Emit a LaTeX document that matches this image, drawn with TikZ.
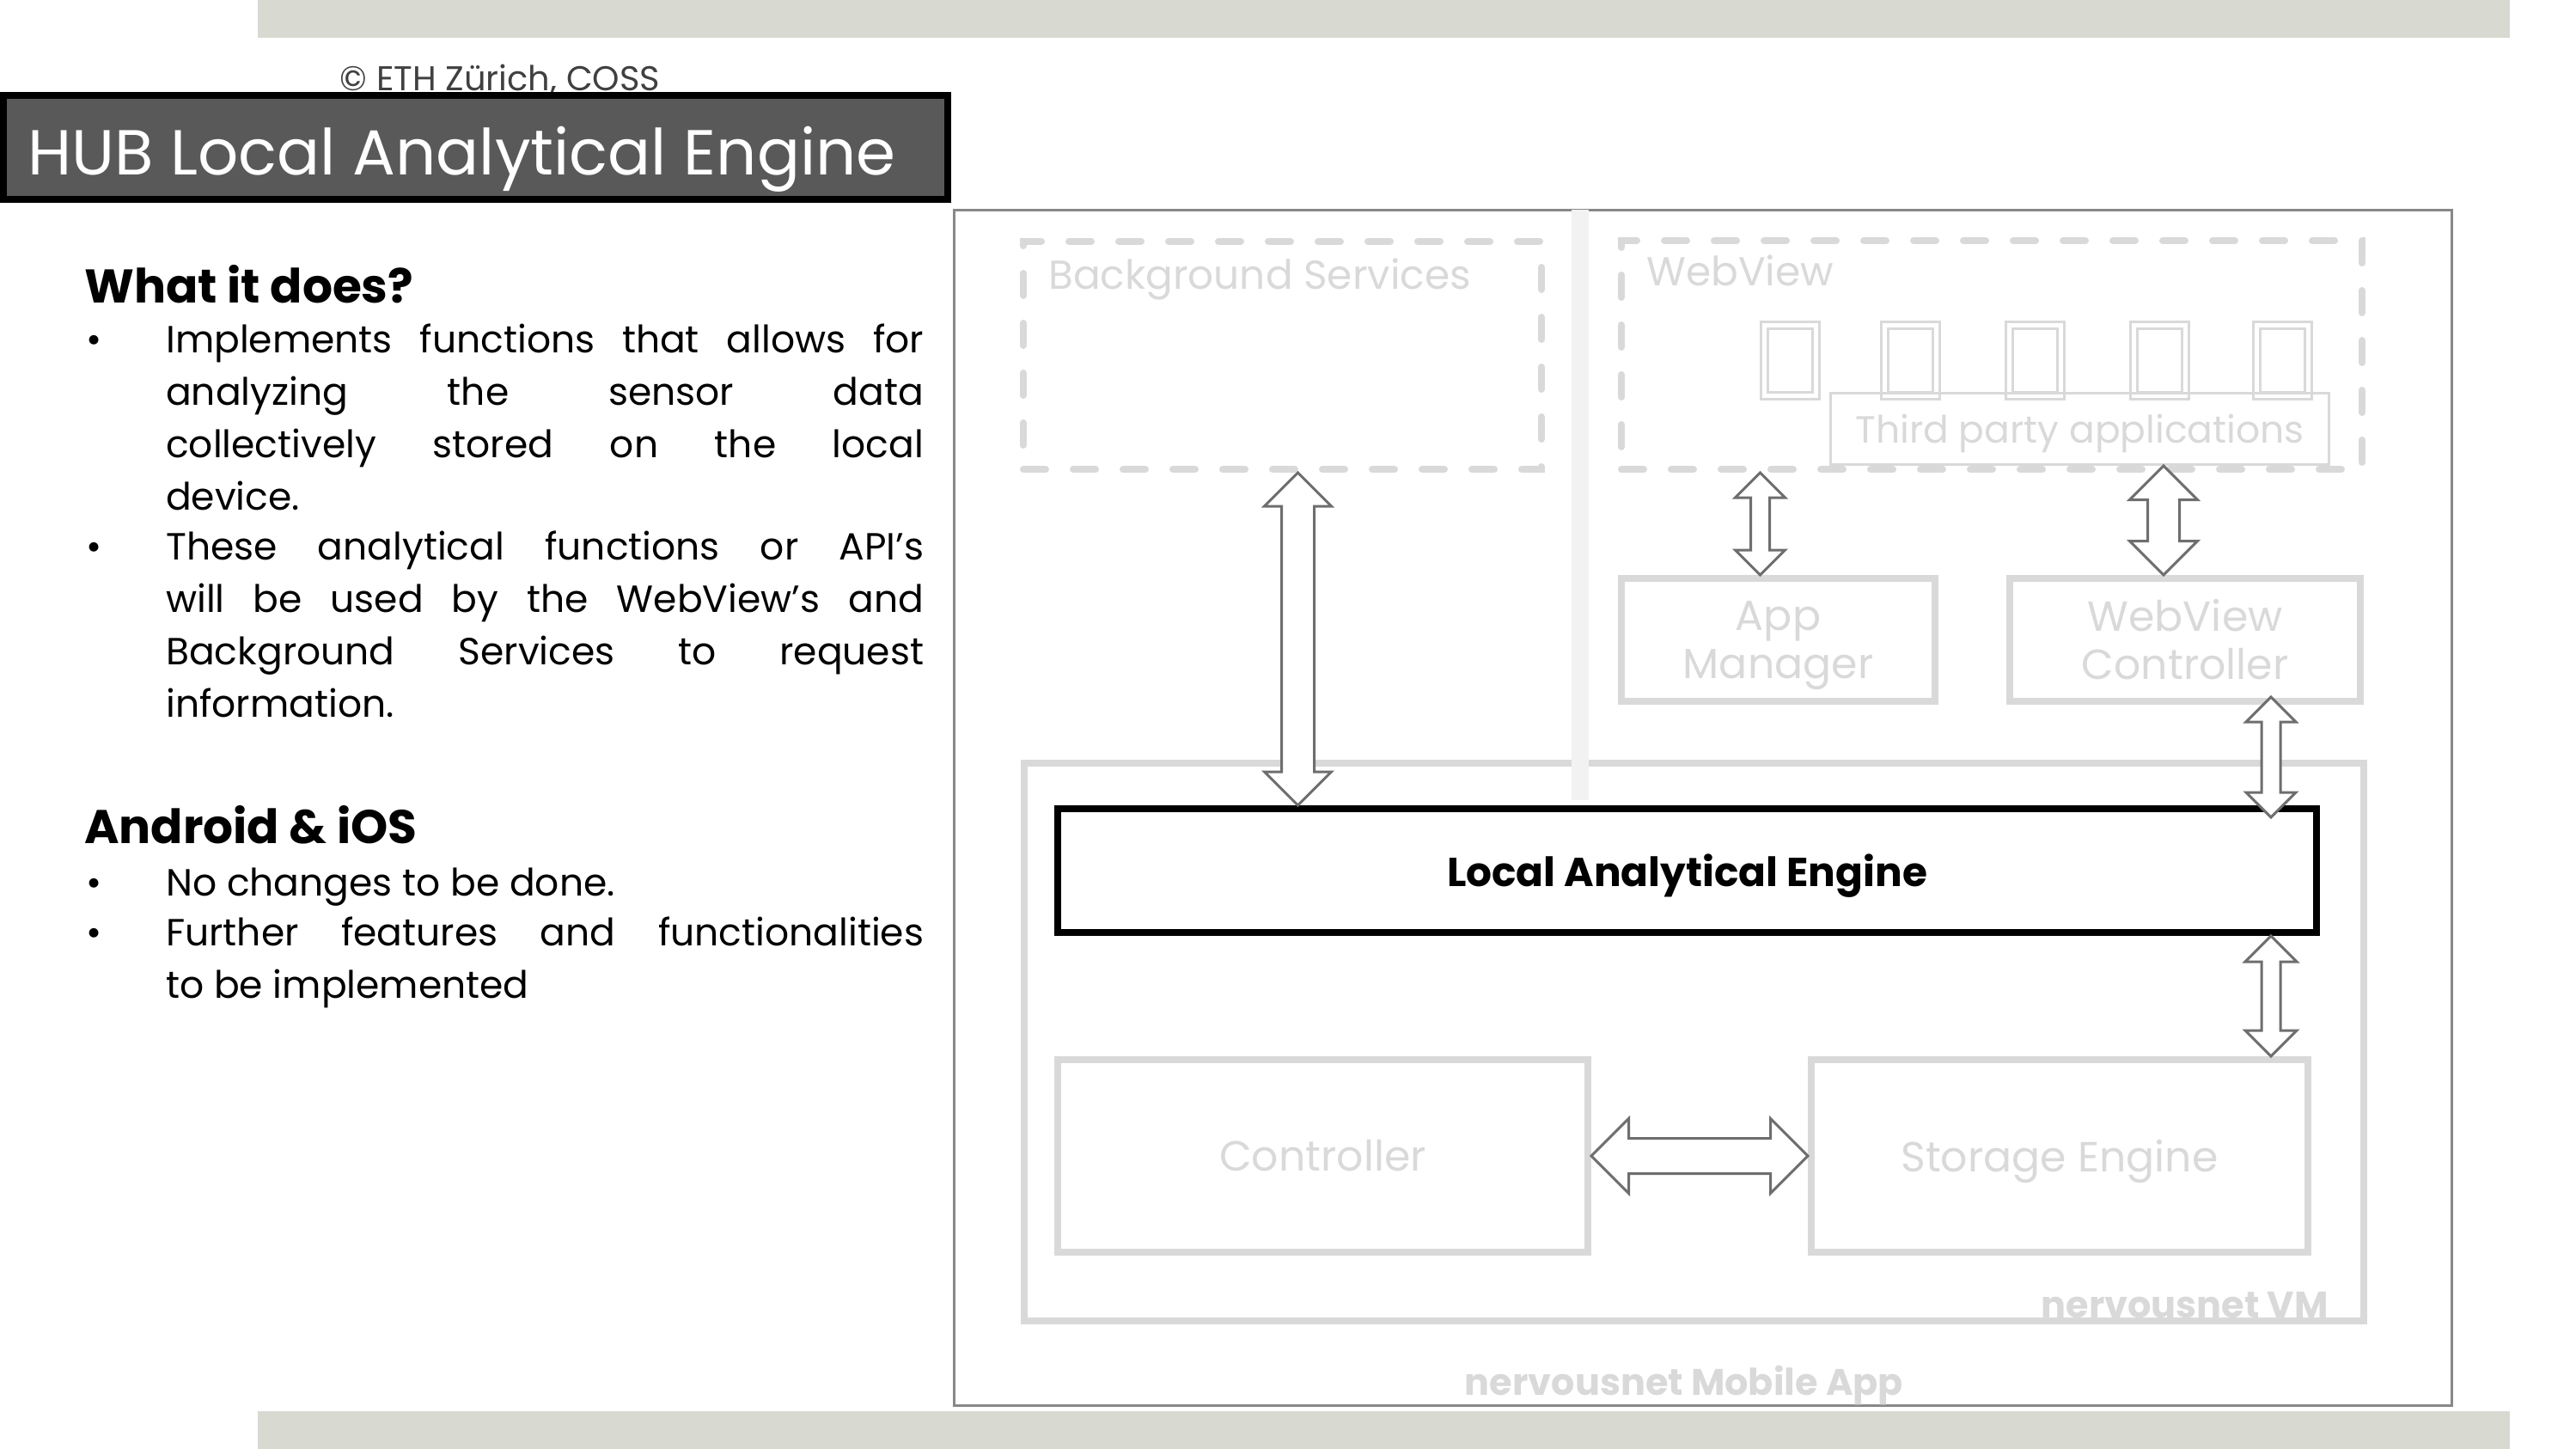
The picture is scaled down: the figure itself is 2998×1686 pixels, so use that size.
\documentclass[tikz,border=0pt]{standalone}
\usepackage{fontspec}
\setmainfont{Poppins}
\usetikzlibrary{calc,positioning}

\definecolor{barcol}{RGB}{216,218,210}
\definecolor{titlefill}{RGB}{89,89,89}
\definecolor{copycol}{RGB}{64,64,64}
\definecolor{faint}{RGB}{217,217,217}
\definecolor{divcol}{RGB}{242,242,242}
\definecolor{framecol}{RGB}{136,136,136}
\definecolor{arrowline}{RGB}{110,110,110}

% text line without descender depth
\newcommand{\nodepth}[1]{\raisebox{0pt}[\height][0pt]{#1}}

% hollow two-way block arrow: from, to, half shaft, half head
\newcommand{\dblarrow}[4]{%
	\coordinate (p1) at (#1);
	\coordinate (p2) at (#2);
	\coordinate (h1) at ($(p1)!#4!(p2)$);
	\coordinate (h2) at ($(p2)!#4!(p1)$);
	\draw[blockarrow] (p1) -- ($(h1)!#4!90:(p2)$) -- ($(h1)!#3!90:(p2)$)
		-- ($(h2)!#3!-90:(p1)$) -- ($(h2)!#4!-90:(p1)$) -- (p2)
		-- ($(h2)!#4!90:(p1)$) -- ($(h2)!#3!90:(p1)$)
		-- ($(h1)!#3!-90:(p2)$) -- ($(h1)!#4!-90:(p2)$) -- cycle;}

\begin{document}
\begin{tikzpicture}[x=1pt, y=-1pt,
	faintbox/.style={draw=faint, line width=8pt, inner sep=0pt, text=faint, align=center, font=\fontsize{49}{56}\selectfont},
	dashbox/.style={draw=faint, line width=8pt, dash pattern=on 26pt off 32pt, line cap=round, inner sep=0pt},
	faintlabel/.style={text=faint, inner sep=0pt, font=\fontsize{47}{54}\selectfont},
	boldlabel/.style={text=faint, inner sep=0pt, font=\bfseries\fontsize{43}{50}\selectfont},
	tofu/.style={draw=faint, line width=3pt, double=white, double distance=5pt, minimum width=60pt, minimum height=82pt, inner sep=0pt},
	blockarrow/.style={fill=white, draw=arrowline, line width=3pt, line join=miter},
	heading/.style={anchor=base west, inner sep=0pt, font=\bfseries\fontsize{55}{62}\selectfont},
	bulletmark/.style={anchor=base west, inner sep=0pt, font=\fontsize{44}{61}\selectfont},
	bodytext/.style={anchor=base west, text width=882pt, align=justify, inner sep=0pt, font=\fontsize{44}{61}\selectfont}]
	\useasboundingbox (0,0) rectangle (2998,1686);
	% Balken
		\fill[barcol] (300,0) rectangle (2921,44);
		\fill[barcol] (300,1642) rectangle (2921,1686);
	% Titel
		\node (copy) at (582,106) [anchor=base, text=copycol, inner sep=0pt, font=\fontsize{40}{44}\selectfont] {© ETH Zürich, COSS};
		\node (titlebox) at (553.5,171.5) [fill=titlefill, draw=black, line width=8pt, minimum width=1099pt, minimum height=121pt, inner sep=0pt] {};
		\node (titletext) at (32,203) [anchor=base west, text=white, inner sep=0pt, font=\fontsize{74}{80}\selectfont] {HUB Local Analytical Engine};
	% Text links
		\node (does) at (98,352) [heading] {What it does?};
		\node (b1) at (100,410) [bulletmark] {•};
		\node (p1text) at (193,410) [bodytext] {Implements functions that allows for\linebreak analyzing the sensor data\linebreak collectively stored on the local\linebreak device.};
		\node (b2) at (100,651) [bulletmark] {•};
		\node (p2text) at (193,651) [bodytext] {These analytical functions or API’s\linebreak will be used by the WebView’s and\linebreak Background Services to request\linebreak information.};
		\node (os) at (98,981) [heading] {Android \& iOS};
		\node (b3) at (100,1042) [bulletmark] {•};
		\node (p3text) at (193,1042) [bodytext] {No changes to be done.};
		\node (b4) at (100,1100) [bulletmark] {•};
		\node (p4text) at (193,1100) [bodytext] {Further features and functionalities\linebreak to be implemented};
	% Knoten
		\node (app) at (1982,940) [draw=framecol, line width=3pt, minimum width=1743pt, minimum height=1391pt, inner sep=0pt] {};
		\node (applabel) at (1960,1623) [boldlabel, anchor=base] {nervousnet Mobile App};
		\node (vm) at (1971.5,1212.5) [faintbox, minimum width=1559pt, minimum height=649pt] {};
		\node (vmlabel) at (2710,1533) [boldlabel, anchor=base east] {nervousnet VM};
		\fill[divcol] (1829,244) rectangle (1849,931);
		\node (bs) at (1492.5,413.5) [dashbox, minimum width=603pt, minimum height=265pt] {};
		\node (bslabel) at (1220,336) [faintlabel, anchor=base west] {Background Services};
		\node (wv) at (2318,413) [dashbox, minimum width=862pt, minimum height=266pt] {};
		\node (wvlabel) at (1916,332) [faintlabel, anchor=base west] {WebView};
		\foreach \x [count=\i] in {2083,2223,2368,2513,2656}
			\node (icon\i) at (\x,419) [tofu] {};
		\node (tp) at (2420.5,499) [faintbox, line width=3pt, minimum width=580pt, minimum height=83pt, font=\fontsize{44}{50}\selectfont] {\nodepth{Third party applications}};
		\node (am) at (2069.5,744.5) [faintbox, minimum width=365pt, minimum height=143pt] {App\\\nodepth{Manager}};
		\node (wvc) at (2543,744.5) [faintbox, minimum width=408pt, minimum height=143pt] {WebView\\Controller};
		\node (lae) at (1963.5,1013) [draw=black, line width=8pt, minimum width=1465pt, minimum height=144pt, inner sep=0pt, font=\bfseries\fontsize{47}{54}\selectfont] {\nodepth{Local Analytical Engine}};
		\node (ctrl) at (1539.5,1345) [faintbox, minimum width=617pt, minimum height=224pt] {Controller};
		\node (st) at (2397,1345) [faintbox, minimum width=578pt, minimum height=224pt] {\nodepth{Storage Engine}};
	% Kanten
		\dblarrow{[xshift=18pt]bs.south}{[xshift=18pt]bs.south |- lae.north}{19pt}{39pt}
		\dblarrow{[xshift=-21pt]am.north |- wv.south}{[xshift=-21pt]am.north}{11pt}{29pt}
		\dblarrow{[xshift=-25pt]wvc.north |- tp.south}{[xshift=-25pt]wvc.north}{18.5pt}{39.5pt}
		\dblarrow{$(wvc.south)+(100,-9)$}{$(wvc.south |- lae.north)+(100,14)$}{11pt}{29pt}
		\dblarrow{$(lae.south -| st.north)+(246,0)$}{$(st.north)+(246,0)$}{11pt}{30pt}
		\dblarrow{ctrl.east}{st.west}{20.5pt}{43.5pt}
\end{tikzpicture}
\end{document}
